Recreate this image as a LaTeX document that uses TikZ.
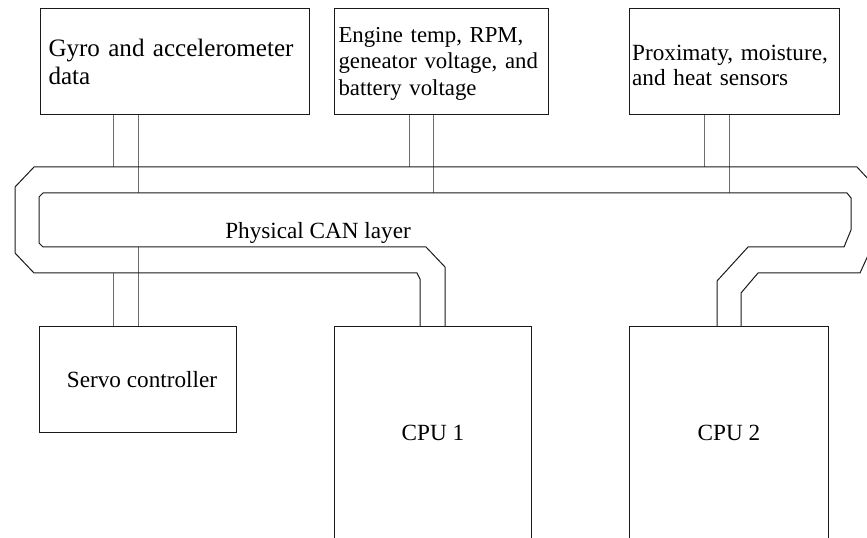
\documentclass[tikz,border=0pt]{standalone}
\usepackage{fontspec}
\setmainfont{Liberation Serif}
\definecolor{LineBlack}{HTML}{1A1A1A}
\definecolor{WireGray}{HTML}{6E6E6E}

\tikzset{
  unitbox/.style={draw=LineBlack, line width=0.75pt, anchor=north west, inner ysep=0pt},
  sensorbox/.style={unitbox, align=left, minimum height=79.5pt},
  wire/.style={draw=WireGray, line width=0.75pt},
  bus/.style={draw=LineBlack, line width=0.75pt},
  bigtext/.style={font=\fontsize{17.4pt}{20pt}\selectfont},
}

\begin{document}
\begin{tikzpicture}[x=0.75pt, y=-0.75pt]
    % Frame
    \useasboundingbox (0,0) rectangle (867,538);
    \clip (0,0) rectangle (867,538);

    % Bus levels and wire positions
    \coordinate (outerTop) at (0,167);
    \coordinate (innerTop) at (0,193);
    \coordinate (innerBot) at (0,247);
    \coordinate (outerBot) at (0,273);
    \coordinate (c1a) at (420,0);
    \coordinate (c1b) at (445,0);
    \coordinate (c2a) at (717,0);
    \coordinate (c2b) at (741,0);

    % Sensor boxes
    \node[sensorbox, minimum width=201.75pt, inner xsep=6pt, text width=189.75pt,
          font=\fontsize{18.8pt}{21pt}\selectfont] (gyro) at (40,8)
        {Gyro and accelerometer\\data};
    \node[sensorbox, minimum width=160.5pt, inner xsep=3pt, text width=154.5pt,
          font=\fontsize{17.1pt}{19.9pt}\selectfont] (engine) at (334,8)
        {\rule{0pt}{14.4pt}Engine temp, RPM,\\geneator voltage, and\\battery voltage};
    \node[sensorbox, minimum width=157.5pt, inner xsep=2pt, text width=153.5pt,
          font=\fontsize{17.4pt}{18.75pt}\selectfont] (prox) at (629,8)
        {\rule{0pt}{17.3pt}Proximaty, moisture,\\and heat sensors};

    % Servo controller and CPUs
    \node[unitbox, bigtext, minimum width=147.75pt, minimum height=79.5pt] (servo) at (39,326) {\hspace*{6pt}Servo controller};
    \node[unitbox, bigtext, minimum width=147.75pt, minimum height=159.75pt] (cpu1) at (334,326) {CPU 1};
    \node[unitbox, bigtext, minimum width=149.25pt, minimum height=159.75pt] (cpu2) at (629,326) {CPU 2};

    % Wires from the sensor boxes down to the bus
    \foreach \src/\xa/\xb in {gyro/113/138, engine/409/433, prox/704/729} {
        \coordinate (wa) at (\xa,0);
        \coordinate (wb) at (\xb,0);
        \draw[wire] (\src.south -| wa) -- (wa |- outerTop);
        \draw[wire] (\src.south -| wb) -- (wb |- innerTop);
    }

    % Wires from the bus down to the servo controller
    \coordinate (sa) at (113,0);
    \coordinate (sb) at (138,0);
    \draw[wire] (sa |- outerBot) -- (servo.north -| sa);
    \draw[wire] (sb |- innerBot) -- (servo.north -| sb);

    % Physical CAN layer, outer conductor
    \draw[bus] (cpu1.north -| c1a) -- (420,279) -- (417,273) -- (34,273) -- (15,253)
        -- (15,187) -- (34,167) -- (857,167) -- (870,181) -- (870,251) -- (860,273)
        -- (758,273) -- (741,293) -- (cpu2.north -| c2b);

    % Physical CAN layer, inner conductor
    \draw[bus] (cpu1.north -| c1b) -- (445,267) -- (426,247) -- (43,247) -- (39,243)
        -- (39,197) -- (43,193) -- (847,193) -- (851,198) -- (851,230) -- (844,247)
        -- (748,247) -- (717,281) -- (cpu2.north -| c2a);

    % Bus label
    \node[bigtext, anchor=base west, inner sep=0pt] (canlabel) at (225,239) {Physical CAN layer};

\end{tikzpicture}
\end{document}
